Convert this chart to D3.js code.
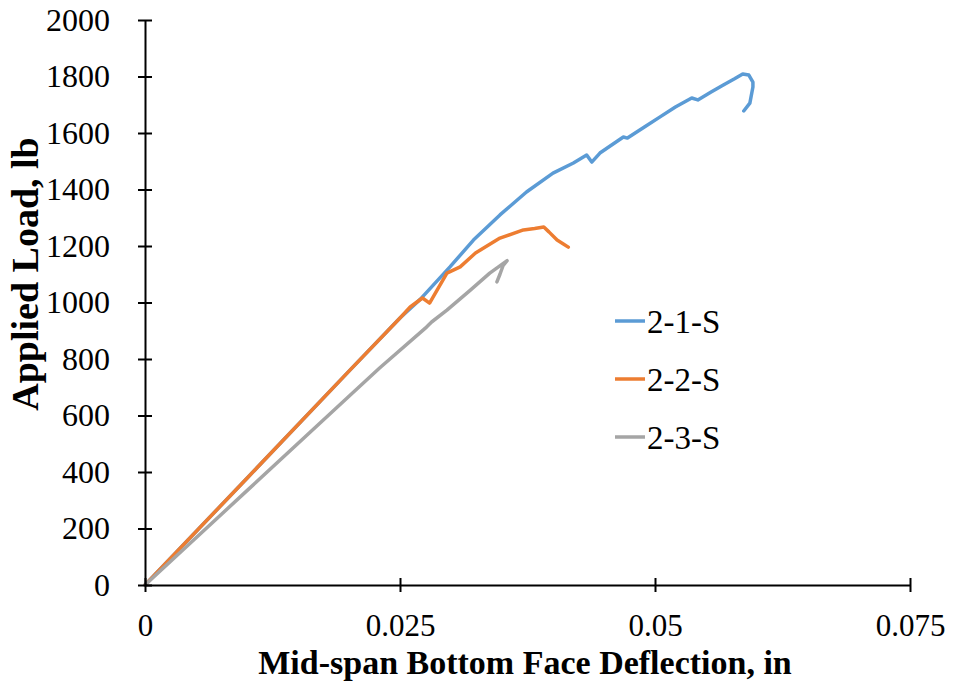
<!DOCTYPE html>
<html><head><meta charset="utf-8">
<script src="https://cdn.jsdelivr.net/npm/d3@7/dist/d3.min.js"></script>
<style>body{margin:0;background:#fff}svg{display:block}</style>
</head><body>
<svg id="chart" width="956" height="698"></svg>
<script>
const seriesNames = ["2-1-S", "2-2-S", "2-3-S"];
const seriesColors = ["#5B9BD5", "#ED7D31", "#A5A5A5"];
const xTicks = [0, 0.025, 0.05, 0.075];
const xTickLabels = ["0", "0.025", "0.05", "0.075"];
const yTicks = [0, 200, 400, 600, 800, 1000, 1200, 1400, 1600, 1800, 2000];

const s1x = [0, 0.010, 0.020, 0.025, 0.0270, 0.0299, 0.0322, 0.0348, 0.0374, 0.0400, 0.0420, 0.0433, 0.0438, 0.0446, 0.0469, 0.0473, 0.0490, 0.0505, 0.0520, 0.0536, 0.0542, 0.0555, 0.0567, 0.0578, 0.0586, 0.0592, 0.0596, 0.0596, 0.0593, 0.0587];
const s1y = [0, 378, 757, 945, 1012, 1126, 1221, 1310, 1391, 1458, 1494, 1522, 1497, 1529, 1586, 1582, 1622, 1657, 1692, 1724, 1717, 1745, 1770, 1792, 1809, 1805, 1780, 1763, 1706, 1678];

const s2x = [0, 0.010, 0.020, 0.025, 0.0260, 0.0272, 0.0279, 0.0296, 0.0309, 0.0324, 0.0348, 0.0371, 0.0382, 0.0391, 0.0396, 0.0404, 0.0409, 0.0415];
const s2y = [0, 378, 757, 945, 984, 1016, 998, 1104, 1126, 1175, 1228, 1257, 1262, 1267, 1250, 1221, 1210, 1196];

const s3x = [0, 0.010, 0.020, 0.0230, 0.0276, 0.0281, 0.0296, 0.0319, 0.0338, 0.0355, 0.0351, 0.0348, 0.0345];
const s3y = [0, 334, 668, 768, 913, 931, 973, 1044, 1104, 1148, 1130, 1100, 1073];

const svg = d3.select("#chart");
const x = d3.scaleLinear().domain([0, 0.075]).range([145, 910]);
const y = d3.scaleLinear().domain([0, 2000]).range([585, 20]);

const series = [
  {name: seriesNames[0], color: seriesColors[0], pts: s1x.map((v,i)=>[v, s1y[i]])},
  {name: seriesNames[1], color: seriesColors[1], pts: s2x.map((v,i)=>[v, s2y[i]])},
  {name: seriesNames[2], color: seriesColors[2], pts: s3x.map((v,i)=>[v, s3y[i]])}
];

const line = d3.line().x(d=>x(d[0])).y(d=>y(d[1])).curve(d3.curveLinear);
svg.append("g").selectAll("path").data(series).join("path")
  .attr("d", d=>line(d.pts)).attr("fill","none").attr("stroke",d=>d.color)
  .attr("stroke-width",3.5).attr("stroke-linejoin","round").attr("stroke-linecap","round");

// axes
const font = "'Liberation Serif','Times New Roman',serif";
const xAxis = d3.axisBottom(x).tickValues(xTicks).tickFormat((d,i)=>xTickLabels[i]).tickSizeInner(7).tickSizeOuter(0);
const gx = svg.append("g").attr("transform",`translate(0,${y(0)})`).call(xAxis);
gx.select(".domain").attr("stroke","#000").attr("stroke-width",2);
gx.selectAll(".tick line").attr("stroke","#000").attr("stroke-width",2).attr("y1",-7);
gx.selectAll(".tick text").attr("font-family",font).attr("font-size",31).attr("fill","#000")
  .attr("y",51).attr("dy",0);

const yAxis = d3.axisLeft(y).tickValues(yTicks).tickFormat(d3.format("d")).tickSizeInner(7).tickSizeOuter(0).tickPadding(28);
const gy = svg.append("g").attr("transform",`translate(${x(0)},0)`).call(yAxis);
gy.select(".domain").attr("stroke","#000").attr("stroke-width",2);
gy.selectAll(".tick line").attr("stroke","#000").attr("stroke-width",2).attr("x1",7);
gy.selectAll(".tick text").attr("font-family",font).attr("font-size",32).attr("fill","#000");

svg.append("text").attr("x", 525).attr("y", 674).attr("text-anchor","middle")
  .attr("font-family",font).attr("font-size",34).attr("font-weight","bold").text("Mid-span Bottom Face Deflection, in");
svg.append("text").attr("transform","translate(38,274) rotate(-90)").attr("text-anchor","middle")
  .attr("font-family",font).attr("font-size",38).attr("font-weight","bold").text("Applied Load, lb");

// legend
const leg = svg.append("g");
const legY = [321, 379, 437];
series.forEach((s,i)=>{
  leg.append("line").attr("x1",615).attr("x2",645).attr("y1",legY[i]).attr("y2",legY[i])
    .attr("stroke",s.color).attr("stroke-width",3.5);
  leg.append("text").attr("x",647).attr("y",legY[i]).attr("dy","0.35em")
    .attr("font-family",font).attr("font-size",33).attr("fill","#000").text(s.name);
});
</script>
</body></html>
